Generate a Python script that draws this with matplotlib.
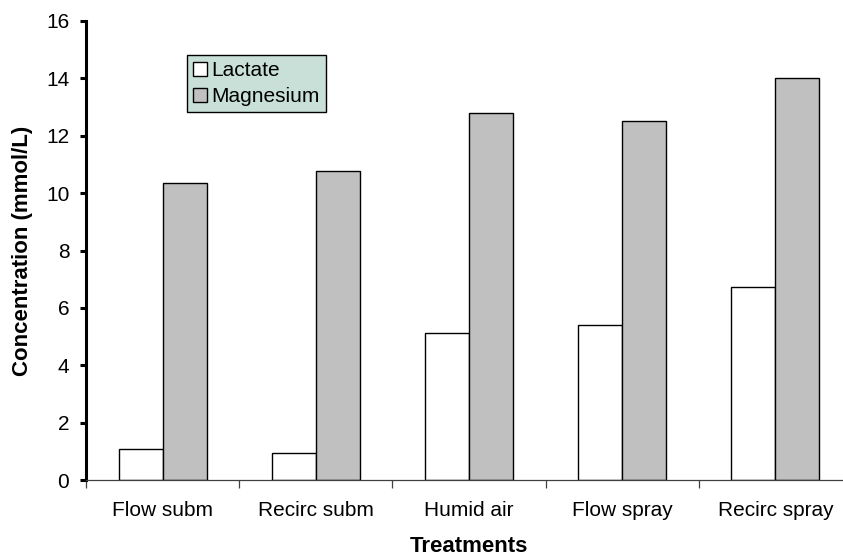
import numpy as np
import matplotlib.pyplot as plt

plt.rcParams['font.family'] = ['Liberation Sans', 'DejaVu Sans']

# Data
treatments = ['Flow subm', 'Recirc subm', 'Humid air', 'Flow spray', 'Recirc spray']
lactate = [1.09, 0.93, 5.13, 5.40, 6.72]
magnesium = [10.35, 10.77, 12.81, 12.52, 14.0]

fig = plt.figure(figsize=(8.43, 5.57), dpi=100)
ax = fig.add_axes([86 / 843, 1 - 480 / 557, (852 - 86) / 843, (480 - 21) / 557])

x = np.arange(len(treatments))
w = 0.287
ax.bar(x - w / 2, lactate, w, color='white', edgecolor='black', linewidth=1.0, label='Lactate')
ax.bar(x + w / 2, magnesium, w, color='#c0c0c0', edgecolor='black', linewidth=1.0, label='Magnesium')

ax.set_xlim(-0.5, len(treatments) - 0.5)
ax.set_ylim(0, 16)
ax.set_yticks(np.arange(0, 17, 2))

ax.spines['top'].set_visible(False)
ax.spines['right'].set_visible(False)
ax.spines['left'].set_linewidth(2.2)
ax.spines['bottom'].set_linewidth(0.9)
ax.spines['bottom'].set_color('#404040')

ax.tick_params(axis='y', direction='out', length=4, width=2.2, labelsize=15, pad=8)
# category ticks at boundaries
ax.set_xticks(np.arange(-0.5, len(treatments), 1.0))
ax.set_xticklabels([])
ax.set_xticks(x, minor=True)
ax.set_xticklabels(treatments, minor=True, fontsize=15)
ax.tick_params(axis='x', which='major', direction='out', length=6, width=0.9, color='#404040')
ax.tick_params(axis='x', which='minor', length=0, pad=15)

ax.set_xlabel('Treatments', fontsize=16, fontweight='bold', labelpad=12)
ax.set_ylabel('Concentration (mmol/L)', fontsize=16, fontweight='bold', labelpad=9)

leg = ax.legend(loc='upper left', bbox_to_anchor=((187 - 86) / 766, 1 - (55 - 21) / 459),
                fontsize=15, frameon=True, fancybox=False, framealpha=1,
                handlelength=0.65, handleheight=0.65, handletextpad=0.22,
                borderpad=0.3, labelspacing=0.32, borderaxespad=0)
leg.get_frame().set_facecolor('#c8e0d8')
leg.get_frame().set_edgecolor('black')
leg.get_frame().set_linewidth(1.0)

plt.savefig('out.png', dpi=100)
